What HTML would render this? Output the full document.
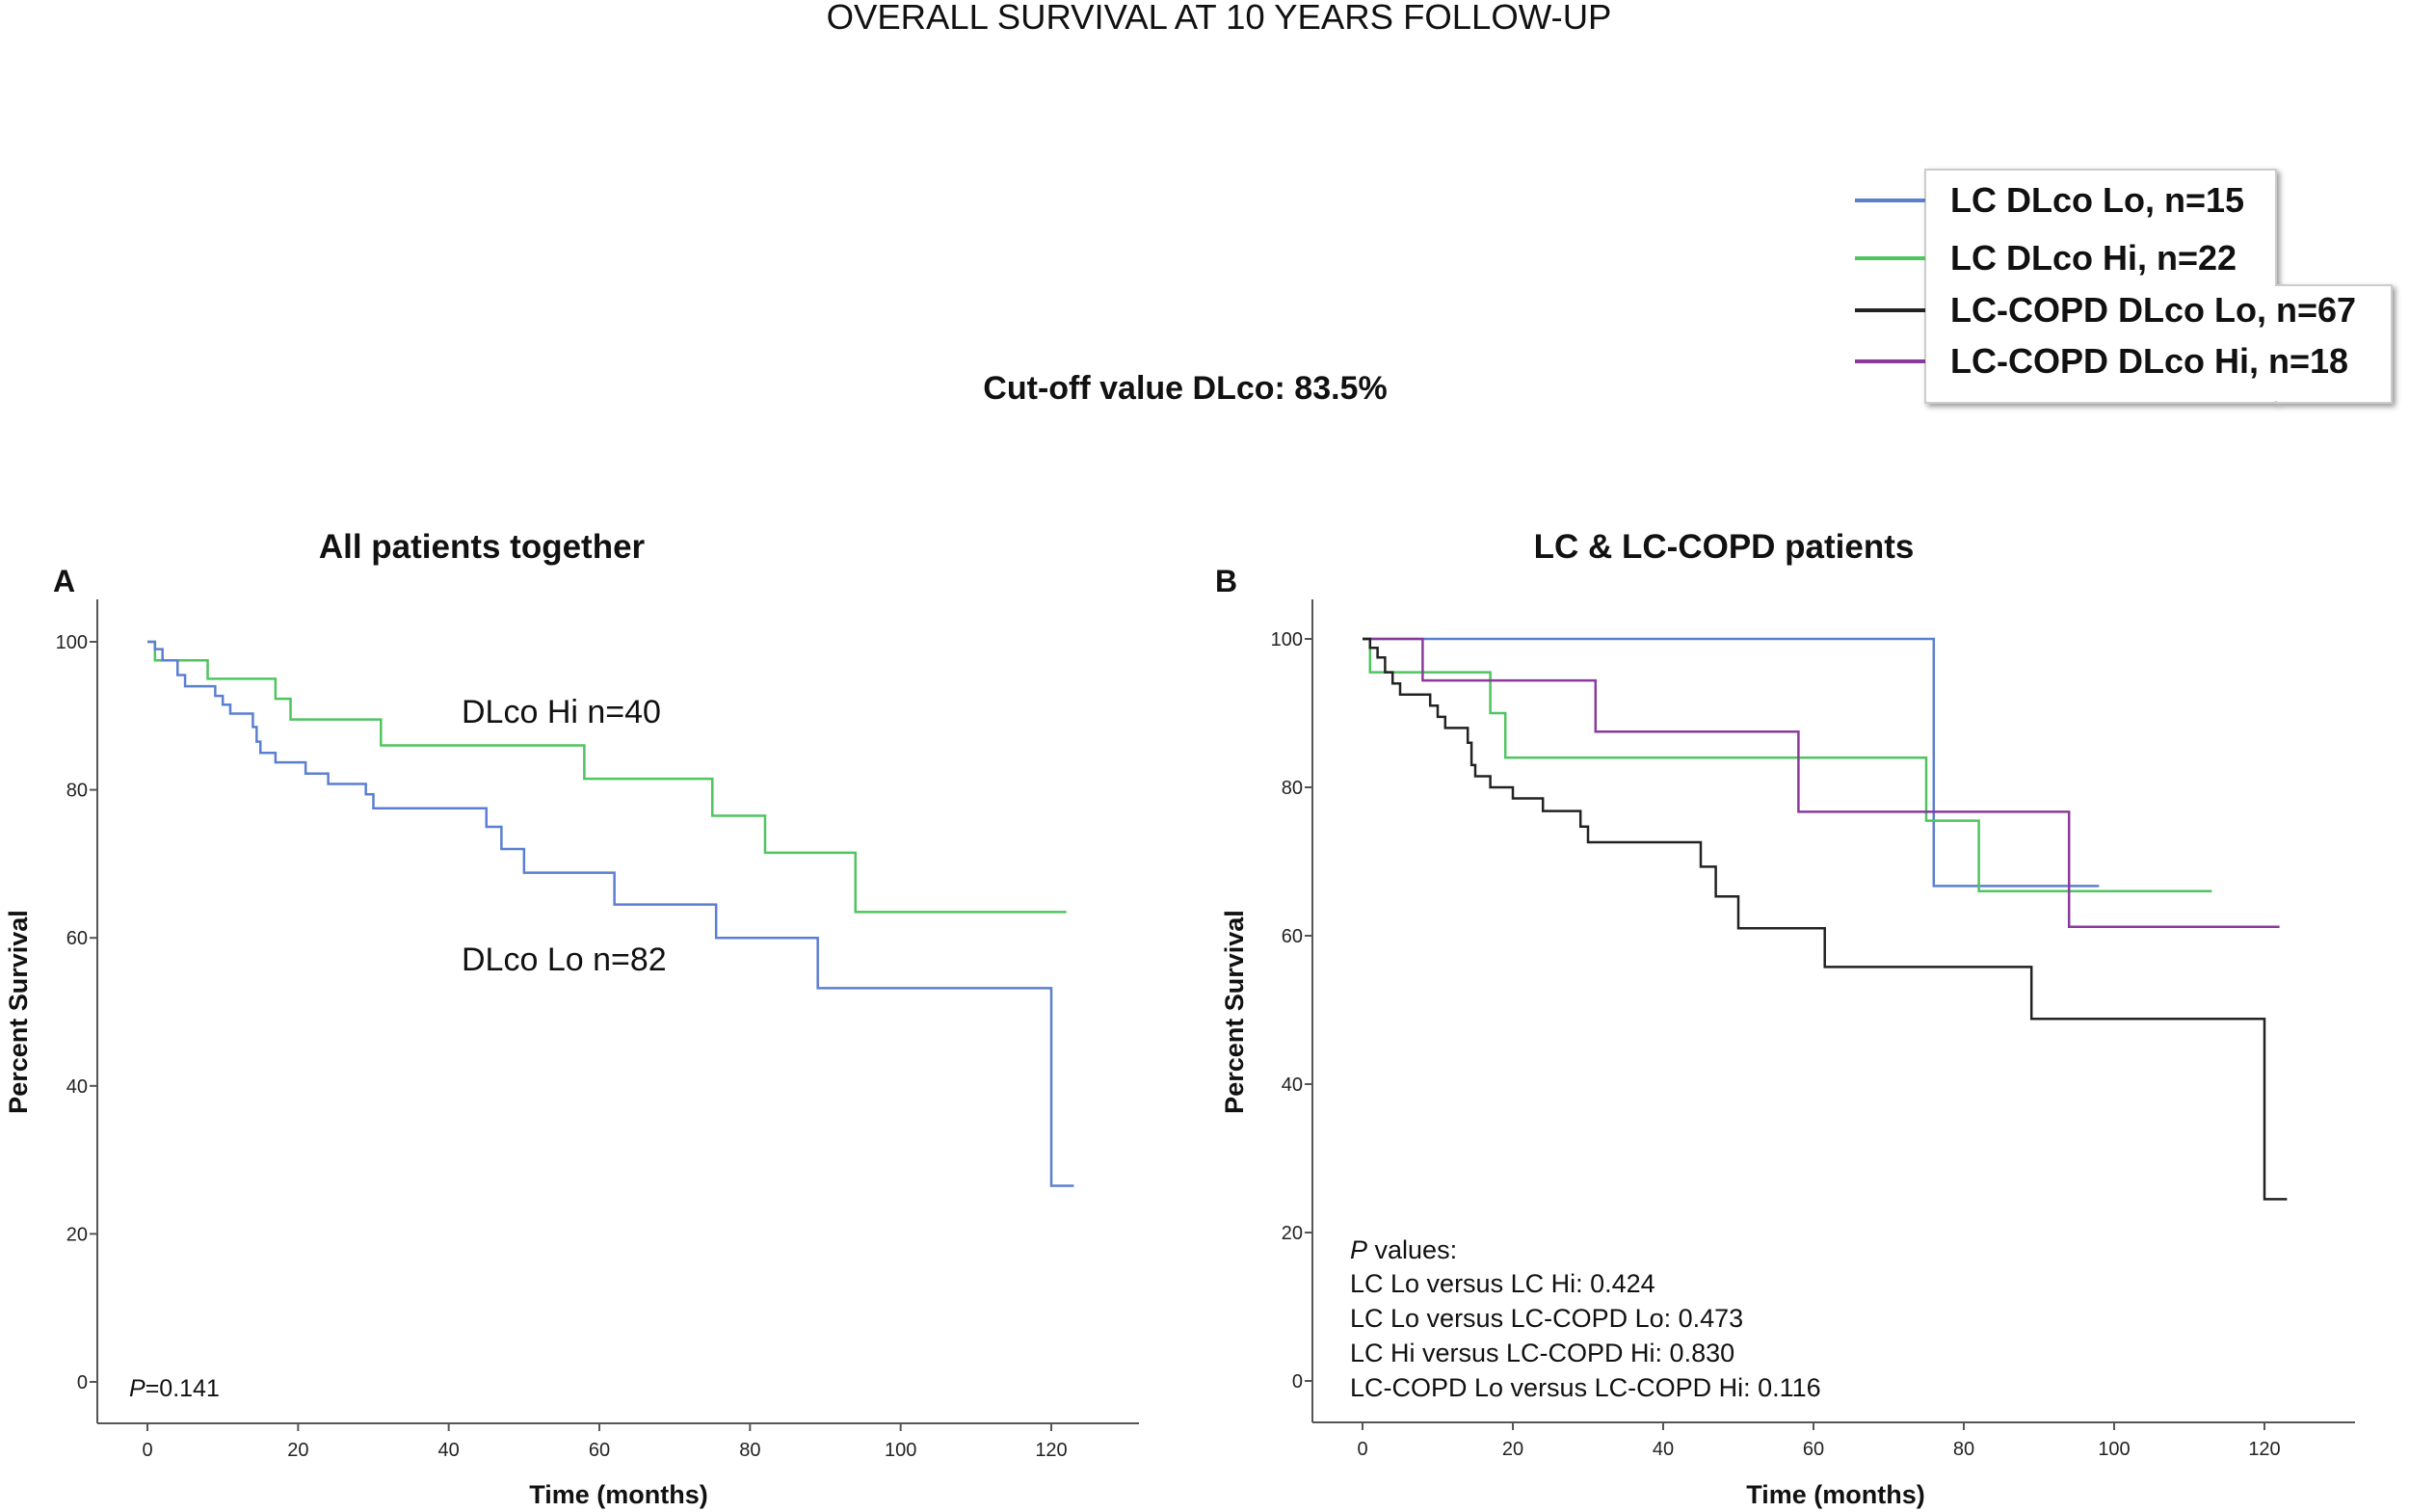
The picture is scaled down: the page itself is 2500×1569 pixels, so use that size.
<!DOCTYPE html>
<html><head><meta charset="utf-8">
<style>
html,body{margin:0;padding:0;background:#fff;}
svg{display:block;font-family:"Liberation Sans",Arial,sans-serif;}
</style></head>
<body>
<svg id="fig" width="2500" height="1569" viewBox="0 0 2500 1569">
<text x="1265" y="30" font-size="36.5" text-anchor="middle" fill="#111">OVERALL SURVIVAL AT 10 YEARS FOLLOW-UP</text>
<text x="1230" y="414" font-size="34" font-weight="bold" text-anchor="middle" fill="#111">Cut-off  value DLco: 83.5%</text>
<g>
<rect x="1998" y="176" width="364" height="242" fill="#fff" stroke="#ccc" stroke-width="2" style="filter:drop-shadow(3px 3px 3px #999)"/>
<rect x="2362" y="296" width="120" height="122" fill="#fff" stroke="#ccc" stroke-width="2" style="filter:drop-shadow(3px 3px 3px #999)"/>
<rect x="2000" y="297" width="480" height="119" fill="#fff"/>
</g>
<g id="legendItems"></g>
<text x="500" y="579" font-size="35" font-weight="bold" text-anchor="middle" fill="#111">All patients together</text>
<text x="1789" y="579" font-size="35" font-weight="bold" text-anchor="middle" fill="#111">LC &amp; LC-COPD  patients</text>
<text x="55" y="614" font-size="32" font-weight="bold" fill="#111">A</text>
<text x="1261" y="614" font-size="32" font-weight="bold" fill="#111">B</text>
<g id="panelA"></g>
<g id="panelB"></g>
<text x="479" y="750" font-size="34" fill="#111">DLco Hi n=40</text>
<text x="479" y="1007" font-size="34" fill="#111">DLco Lo n=82</text>
<text x="134" y="1449" font-size="25" fill="#111"><tspan font-style="italic">P</tspan>=0.141</text>
<g font-size="27" fill="#111">
<text x="1401" y="1306"><tspan font-style="italic">P</tspan> values:</text>
<text x="1401" y="1341">LC  Lo versus LC Hi:  0.424</text>
<text x="1401" y="1377">LC  Lo versus LC-COPD  Lo: 0.473</text>
<text x="1401" y="1413">LC  Hi versus  LC-COPD  Hi:  0.830</text>
<text x="1401" y="1449">LC-COPD  Lo versus LC-COPD  Hi:  0.116</text>
</g>
</svg>
<script>
const legendLabels = ["LC DLco Lo, n=15","LC DLco Hi, n=22","LC-COPD DLco Lo, n=67","LC-COPD DLco Hi, n=18"];
const legendColors = ["#5b7fd0","#4fc45f","#222222","#8a3a9a"];
const xTicks = [0,20,40,60,80,100,120];
const yTicks = [0,20,40,60,80,100];
// Panel A
const aHiTimes = [0,1,8,17,19,31,58,75,82,94];
const aHiSurv = [100,97.5,95,92.3,89.5,86,81.5,76.5,71.5,63.5];
const aHiEnd = 122;
const aLoTimes = [0,1,2,4,5,9,10,11,14,14.5,15,17,21,24,29,30,45,47,50,62,75.5,89,120];
const aLoSurv = [100,99,97.5,95.5,94,92.7,91.5,90.3,88.5,86.5,85,83.7,82.2,80.8,79.4,77.5,75,72,68.8,64.5,60,53.2,26.5];
const aLoEnd = 123;
// Panel B
const bLcLoTimes = [0,76];
const bLcLoSurv = [100,66.7];
const bLcLoEnd = 98;
const bLcHiTimes = [0,1,17,19,75,82];
const bLcHiSurv = [100,95.5,90,84,75.5,66];
const bLcHiEnd = 113;
const bCopdHiTimes = [0,8,31,58,94];
const bCopdHiSurv = [100,94.4,87.5,76.7,61.2];
const bCopdHiEnd = 122;
const bCopdLoTimes = [0,1,2,3,4,5,9,10,11,14,14.5,15,17,20,24,29,30,45,47,50,61.5,89,120];
const bCopdLoSurv = [100,98.8,97.5,95.5,94,92.5,91,89.5,88,86,83,81.5,80,78.5,76.8,74.7,72.6,69.3,65.3,61,55.8,48.8,24.5];
const bCopdLoEnd = 123;

const NS="http://www.w3.org/2000/svg";
function mk(parent, tag, attrs){const e=document.createElementNS(NS,tag);for(const k in attrs)e.setAttribute(k,attrs[k]);parent.appendChild(e);return e;}

const li=document.getElementById('legendItems');
const rowY=[216,276,330,383];
legendLabels.forEach((lab,i)=>{
  const l=mk(li,'line',{x1:1925,x2:1998,y1:rowY[i]-8,y2:rowY[i]-8,stroke:legendColors[i],'stroke-width':4});
  
  
  const t=mk(li,'text',{x:2024,y:rowY[i]+4,'font-size':36,'font-weight':'bold',fill:'#111'});
  t.textContent=lab;
  
  
});

function panel(gid, ax){
  const g=document.getElementById(gid);
  const sx=v=>ax.x0+(ax.x120-ax.x0)*v/120;
  const sy=v=>ax.y0+(ax.y100-ax.y0)*v/100;
  const a1=mk(g,'line',{x1:ax.axisX,x2:ax.axisX,y1:ax.axisTop,y2:ax.axisY,stroke:'#555','stroke-width':2});
  
  
  const a2=mk(g,'line',{x1:ax.axisX,x2:ax.axisRight,y1:ax.axisY,y2:ax.axisY,stroke:'#555','stroke-width':2});
  
  
  yTicks.forEach(v=>{
    mk(g,'line',{x1:ax.axisX-8,x2:ax.axisX,y1:sy(v),y2:sy(v),stroke:'#555','stroke-width':2});
    const t=mk(g,'text',{x:ax.axisX-10,y:sy(v)+7,'font-size':20,'text-anchor':'end',fill:'#222'});
    t.textContent=v;
    
    
  });
  xTicks.forEach(v=>{
    mk(g,'line',{x1:sx(v),x2:sx(v),y1:ax.axisY,y2:ax.axisY+8,stroke:'#555','stroke-width':2});
    const t=mk(g,'text',{x:sx(v),y:ax.axisY+34,'font-size':20,'text-anchor':'middle',fill:'#222'});
    t.textContent=v;
    
    
  });
  const xt=mk(g,'text',{x:ax.xTitleX,y:1560,'font-size':27,'font-weight':'bold','text-anchor':'middle',fill:'#111'});
  xt.textContent='Time (months)';
  
  
  const yt=mk(g,'text',{x:0,y:0,'font-size':27,'font-weight':'bold','text-anchor':'middle',fill:'#111',transform:`translate(${ax.yTitleX},1050) rotate(-90)`});
  yt.textContent='Percent Survival';
  
  
  return {g,sx,sy};
}
function curve(p, times, surv, end, color, name){
  let d=`M${p.sx(times[0])},${p.sy(surv[0])}`;
  for(let i=1;i<times.length;i++){d+=` H${p.sx(times[i])} V${p.sy(surv[i])}`;}
  d+=` H${p.sx(end)}`;
  const e=mk(p.g,'path',{d:d,fill:'none',stroke:color,'stroke-width':2.5});
  
  
}
const pA=panel('panelA',{x0:153,x120:1091,y0:1434,y100:666,axisX:101,axisTop:622,axisY:1477,axisRight:1182,xTitleX:642,yTitleX:28});
curve(pA,aHiTimes,aHiSurv,aHiEnd,'#4fc45f','curve-dlco-hi');
curve(pA,aLoTimes,aLoSurv,aLoEnd,'#5b7fd0','curve-dlco-lo');
const pB=panel('panelB',{x0:1414,x120:2350,y0:1433,y100:663,axisX:1362,axisTop:622,axisY:1476,axisRight:2444,xTitleX:1905,yTitleX:1290});
curve(pB,bLcLoTimes,bLcLoSurv,bLcLoEnd,'#5b7fd0','curve-lc-lo');
curve(pB,bLcHiTimes,bLcHiSurv,bLcHiEnd,'#4fc45f','curve-lc-hi');
curve(pB,bCopdHiTimes,bCopdHiSurv,bCopdHiEnd,'#8a3a9a','curve-copd-hi');
curve(pB,bCopdLoTimes,bCopdLoSurv,bCopdLoEnd,'#222222','curve-copd-lo');
</script>
</body></html>
